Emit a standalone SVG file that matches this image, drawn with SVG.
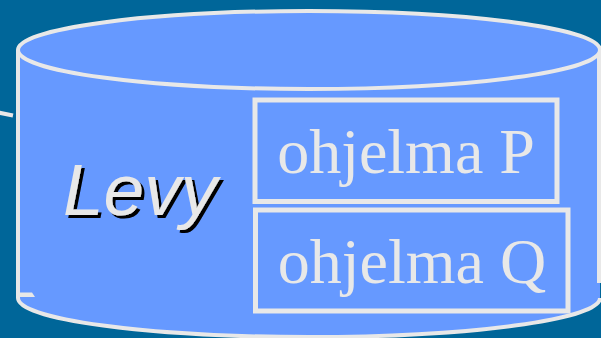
<svg xmlns="http://www.w3.org/2000/svg" width="601" height="338" viewBox="0 0 601 338">
<style>
.edge{fill:none;stroke:#E8E8E8;stroke-width:4}
.box{fill:#6699FF;stroke:#E8E8E8;stroke-width:5}
.prog{font-family:"Liberation Serif","Times New Roman",serif;font-size:64px;fill:#E8E8E8;text-anchor:middle}
.disk{font-family:"Liberation Sans",Arial,sans-serif;font-size:73px;font-style:italic;fill:#E8E8E8}
</style>
<defs>
<filter id="shadow" x="-10%" y="-10%" width="130%" height="130%">
<feOffset in="SourceAlpha" dx="3" dy="3" result="off"/>
<feFlood flood-color="#000000"/>
<feComposite in2="off" operator="in" result="sh"/>
<feMerge><feMergeNode in="sh"/><feMergeNode in="SourceGraphic"/></feMerge>
</filter>
</defs>
<rect x="0" y="0" width="601" height="338" fill="#006699"/>
<g id="connectors">
<line x1="-2" y1="112.5" x2="13" y2="115.5" stroke="#E8E8E8" stroke-width="4"/>
</g>
<g id="levy">
<path d="M18,50 L18,298 A291,39 0 0 0 600,298 L600,50 Z" fill="#6699FF"/>
<path class="edge" d="M18,50 L18,298 A291,39 0 0 0 600,298"/>
<path class="edge" d="M599,50 L599,283"/>
<ellipse cx="309" cy="50" rx="291" ry="39" fill="#6699FF" stroke="#E8E8E8" stroke-width="4"/>
<polygon points="20,292.5 32,292.5 35,297 20,297" fill="#E8E8E8"/>
<text class="disk" x="63" y="215" filter="url(#shadow)">Levy</text>
</g>
<g id="ohjelmaP">
<rect class="box" x="255" y="100" width="302" height="101.5"/>
<text class="prog" x="406" y="173">ohjelma P</text>
</g>
<g id="ohjelmaQ">
<rect class="box" x="255.5" y="210" width="312.5" height="101"/>
<text class="prog" x="412" y="283">ohjelma Q</text>
</g>
</svg>
